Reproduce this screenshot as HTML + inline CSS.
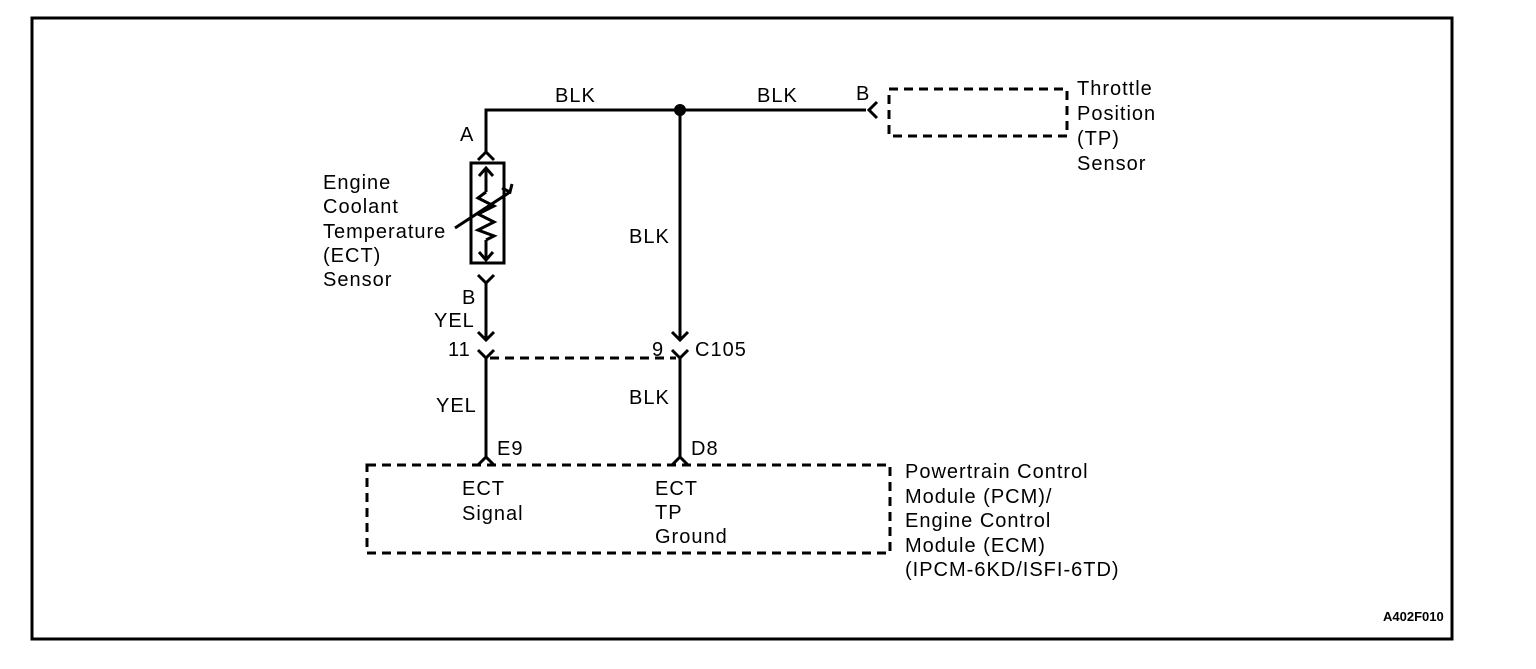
<!DOCTYPE html>
<html><head><style>
body{margin:0;background:#fff;}
svg text{font-family:"Liberation Sans",Arial,sans-serif;font-size:20px;letter-spacing:1px;fill:#000;}
</style></head><body>
<svg width="1536" height="664" viewBox="0 0 1536 664" xmlns="http://www.w3.org/2000/svg">
<rect x="32" y="18" width="1420" height="621" fill="none" stroke="#000" stroke-width="3"/>
<g stroke="#000" stroke-width="3" fill="none">
<polyline points="486,152 486,110 866,110"/>
<circle cx="680" cy="110" r="4.5" fill="#000"/>
<polyline points="478,160 486,152 494,160"/>
<polyline points="877,102 869,110 877,118"/>
<rect x="889" y="89" width="178" height="47" stroke-dasharray="9,6"/>
<rect x="471" y="163" width="33" height="100"/>
<line x1="486" y1="168" x2="486" y2="192"/>
<polyline points="479,176 486,168 493,176"/>
<polyline points="486,192 478,198 494,206 478,214 494,222 478,230 494,236 486,240"/>
<line x1="486" y1="240" x2="486" y2="260"/>
<polyline points="479,252 486,260 493,252"/>
<line x1="455" y1="228" x2="510" y2="192"/>
<polyline points="502,188 510,192 512,184"/>
<polyline points="478,275 486,283 494,275"/>
<line x1="486" y1="283" x2="486" y2="340"/>
<polyline points="478,332 486,340 494,332"/>
<polyline points="478,350 486,358 494,350"/>
<line x1="486" y1="358" x2="486" y2="457"/>
<polyline points="478,465 486,457 494,465"/>
<line x1="680" y1="110" x2="680" y2="340"/>
<polyline points="672,332 680,340 688,332"/>
<polyline points="672,350 680,358 688,350"/>
<line x1="680" y1="358" x2="680" y2="457"/>
<polyline points="672,465 680,457 688,465"/>
<line x1="490" y1="358" x2="676" y2="358" stroke-dasharray="9,6"/>
<rect x="367" y="465" width="523" height="88" stroke-dasharray="9,6"/>
</g>
<text x="555" y="102">BLK</text>
<text x="757" y="102">BLK</text>
<text x="856" y="100">B</text>
<text x="1077" y="95">Throttle</text>
<text x="1077" y="120">Position</text>
<text x="1077" y="145">(TP)</text>
<text x="1077" y="170">Sensor</text>
<text x="460" y="141">A</text>
<text x="323" y="189">Engine</text>
<text x="323" y="213">Coolant</text>
<text x="323" y="238">Temperature</text>
<text x="323" y="262">(ECT)</text>
<text x="323" y="286">Sensor</text>
<text x="629" y="243">BLK</text>
<text x="462" y="304">B</text>
<text x="434" y="327">YEL</text>
<text x="448" y="356">11</text>
<text x="652" y="356">9</text>
<text x="695" y="356">C105</text>
<text x="436" y="412">YEL</text>
<text x="629" y="404">BLK</text>
<text x="497" y="455">E9</text>
<text x="691" y="455">D8</text>
<text x="462" y="495">ECT</text>
<text x="462" y="520">Signal</text>
<text x="655" y="495">ECT</text>
<text x="655" y="519">TP</text>
<text x="655" y="543">Ground</text>
<text x="905" y="478">Powertrain Control</text>
<text x="905" y="503">Module (PCM)/</text>
<text x="905" y="527">Engine Control</text>
<text x="905" y="552">Module (ECM)</text>
<text x="905" y="576">(IPCM-6KD/ISFI-6TD)</text>
<text x="1383" y="621" style="font-size:13px;font-weight:bold;letter-spacing:0">A402F010</text>
</svg>
</body></html>
